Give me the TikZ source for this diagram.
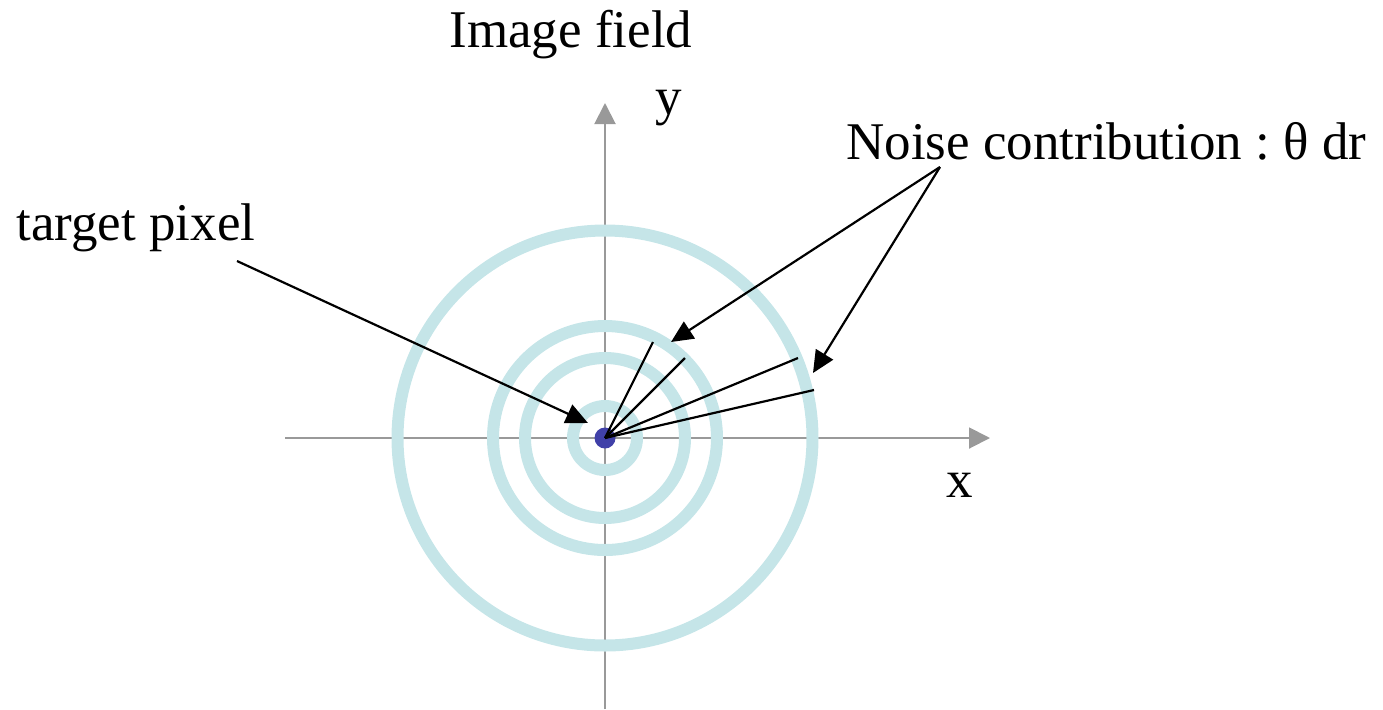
\documentclass[tikz,border=0pt]{standalone}
\usepackage{fontspec}
\setmainfont{Liberation Serif}
\usetikzlibrary{arrows.meta}

\definecolor{ringblue}{RGB}{197,229,232}
\definecolor{pixblue}{RGB}{64,64,168}
\definecolor{axisgray}{RGB}{153,153,153}

\begin{document}
\begin{tikzpicture}[
  x=0.5pt, y=-0.5pt,
  axisline/.style={draw=axisgray, line width=1pt, -{Triangle[length=10.5pt, width=10.5pt]}},
  ringline/.style={draw=ringblue, line width=6pt},
  rayline/.style={draw=black, line width=1.1pt},
  callout/.style={draw=black, line width=1.1pt, -{Triangle[length=11pt, width=10pt]}},
  labeltext/.style={font=\fontsize{26.5}{30}\selectfont, inner sep=0pt, anchor=base west},
]
\useasboundingbox (0,0) rectangle (1383,709);

% ============================================================
% AXES
% ============================================================
\coordinate (c) at (605,438);
\coordinate (xl) at (285,438);
\coordinate (xr) at (990,438);
\coordinate (yb) at (605,709);
\coordinate (yt) at (605,103);
\draw[axisline] (xl) -- (xr);
\draw[axisline] (yb) -- (yt);

% ============================================================
% RINGS AROUND THE TARGET PIXEL
% ============================================================
\foreach \r in {16,40,56,103.75}
  \draw[ringline] (c) circle[radius=\r pt];

\node[circle, fill=pixblue, minimum size=10.5pt, inner sep=0pt] (pix) at (c) {};

% --- rays to the rings ---
\coordinate (r1) at (653,342);
\coordinate (r2) at (685,358);
\coordinate (r3) at (798,358);
\coordinate (r4) at (814,390);
\foreach \e in {r1,r2,r3,r4}
  \draw[rayline] (pix.center) -- (\e);

% ============================================================
% LABELS
% ============================================================
\node[labeltext] (title) at (449,47) {Image field};
\node[labeltext] (ylab) at (655,114) {y};
\node[labeltext] (xlab) at (946,497) {x};
\node[labeltext] (tplab) at (16,240) {target pixel};
\node[labeltext] (nclab) at (846,159) {Noise contribution :~θ dr};

% --- callout arrows ---
\coordinate (tpfrom) at (237,261);
\coordinate (tpto) at (588,423);
\coordinate (ncfrom) at (940,167);
\coordinate (nc1) at (671,342);
\coordinate (nc2) at (813,373);
\draw[callout] (tpfrom) -- (tpto);
\draw[callout] (ncfrom) -- (nc1);
\draw[callout] (ncfrom) -- (nc2);

\end{tikzpicture}
\end{document}
